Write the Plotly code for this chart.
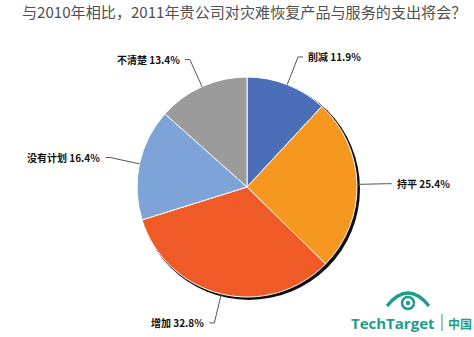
import math
import plotly.graph_objects as go

# ---- data ----
categories = ["削减", "持平", "增加", "没有计划", "不清楚"]
values = [11.9, 25.4, 32.8, 16.4, 13.4]
colors = ["#4a6fb8", "#f6971f", "#f05a26", "#7ea3d9", "#9b9b9c"]
title_text = "与2010年相比，2011年贵公司对灾难恢复产品与服务的支出将会？"

# ---- geometry ----
W, H = 474, 337
cx, cy, R = 247, 187, 110
FONT = "Noto Sans CJK SC"


def px(x):
    return x / W


def py(y):
    return 1 - y / H


fig = go.Figure()
fig.add_trace(go.Pie(
    labels=categories,
    values=values,
    sort=False,
    direction="clockwise",
    rotation=0,
    marker=dict(colors=colors, line=dict(color="white", width=1)),
    textinfo="none",
    hoverinfo="label+value",
    showlegend=False,
    domain=dict(x=[px(cx - R), px(cx + R)], y=[py(cy + R), py(cy - R)]),
))

shapes = []
annotations = []

# shadow ring behind pie
shapes.append(dict(type="circle", xref="paper", yref="paper", layer="below",
                   x0=px(cx - R + 1), x1=px(cx + R + 3), y0=py(cy + R + 3), y1=py(cy - R + 1),
                   fillcolor="#111111", line=dict(width=0)))

total = sum(values)
cum = 0.0
for cat, v in zip(categories, values):
    mid = (cum + v / 2) / total * 2 * math.pi
    cum += v
    sx, sy = cx + R * math.sin(mid), cy - R * math.cos(mid)
    ex, ey = cx + 1.27 * R * math.sin(mid), cy - 1.27 * R * math.cos(mid)
    right = math.sin(mid) >= 0
    hx = ex + (5 if right else -5)
    shapes.append(dict(type="path", xref="paper", yref="paper",
                       path=f"M {px(sx)} {py(sy)} L {px(ex)} {py(ey)} L {px(hx)} {py(ey)}",
                       line=dict(color="#555555", width=1)))
    annotations.append(dict(xref="paper", yref="paper",
                            x=px(hx + (3 if right else -3)), y=py(ey),
                            xanchor="left" if right else "right", yanchor="middle",
                            text=f"<b>{cat} {v:.1f}%</b>", showarrow=False,
                            font=dict(family=FONT, size=10, color="#111111")))

# title
annotations.append(dict(xref="paper", yref="paper", x=px(20), y=py(11),
                        xanchor="left", yanchor="middle", showarrow=False,
                        text=title_text,
                        font=dict(family=FONT, size=15.1, color="#505050")))

# TechTarget logo
teal = "#1f9d8c"
ex0, ey0 = 408, 303
shapes.append(dict(type="path", xref="paper", yref="paper",
                   path=f"M {px(387)} {py(306)} Q {px(408)} {py(280)} {px(429)} {py(306)}",
                   line=dict(color=teal, width=3.5)))
shapes.append(dict(type="circle", xref="paper", yref="paper",
                   x0=px(ex0 - 6), x1=px(ex0 + 6), y0=py(ey0 + 6), y1=py(ey0 - 6),
                   line=dict(color=teal, width=2.5)))
shapes.append(dict(type="circle", xref="paper", yref="paper",
                   x0=px(ex0 - 2.2), x1=px(ex0 + 2.2), y0=py(ey0 + 2.2), y1=py(ey0 - 2.2),
                   fillcolor=teal, line=dict(width=0)))
shapes.append(dict(type="line", xref="paper", yref="paper",
                   x0=px(442), x1=px(442), y0=py(314), y1=py(331),
                   line=dict(color=teal, width=1)))
annotations.append(dict(xref="paper", yref="paper", x=px(437), y=py(323),
                        xanchor="right", yanchor="middle", showarrow=False,
                        text="<b>TechTarget</b>",
                        font=dict(family="Open Sans", size=15, color=teal)))
annotations.append(dict(xref="paper", yref="paper", x=px(446), y=py(323),
                        xanchor="left", yanchor="middle", showarrow=False,
                        text="<b>中国</b>",
                        font=dict(family=FONT, size=12, color=teal)))

fig.update_layout(
    width=W, height=H,
    margin=dict(l=0, r=0, t=0, b=0),
    paper_bgcolor="white", plot_bgcolor="white",
    shapes=shapes, annotations=annotations,
)

fig.write_html("out.html")
